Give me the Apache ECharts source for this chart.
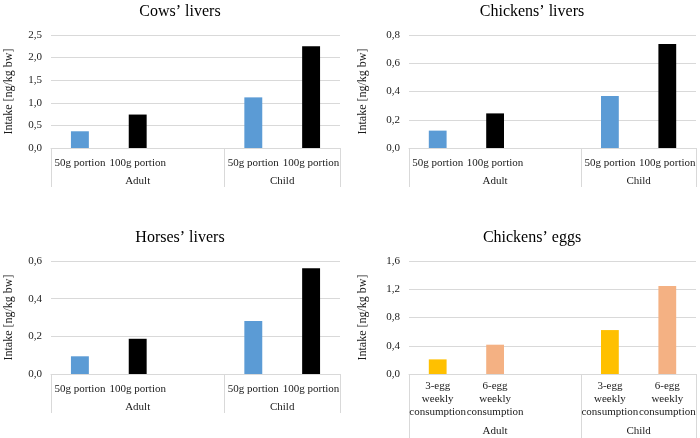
<!DOCTYPE html>
<html>
<head>
<meta charset="utf-8">
<script src="https://cdn.jsdelivr.net/npm/echarts@6/dist/echarts.min.js"></script>
<style>html,body{margin:0;padding:0;background:#fff}#c{width:700px;height:438px}</style>
</head>
<body>
<div id="c"></div>
<script>
// ---- data ----
const titles = ["Cows\u2019 livers", "Chickens\u2019 livers", "Horses\u2019 livers", "Chickens\u2019 eggs"];
const groups = ["Adult", "Child"];
const liverCats = ["50g portion", "100g portion", "", "50g portion", "100g portion"];
const eggCats = ["3-egg\nweekly\nconsumption", "6-egg\nweekly\nconsumption", "", "3-egg\nweekly\nconsumption", "6-egg\nweekly\nconsumption"];
const cowsLow = [0.37, null, null, 1.12, null];
const cowsHigh = [null, 0.74, null, null, 2.25];
const chickLow = [0.123, null, null, 0.368, null];
const chickHigh = [null, 0.245, null, null, 0.736];
const horseLow = [0.094, null, null, 0.281, null];
const horseHigh = [null, 0.187, null, null, 0.562];
const eggLow = [0.207, null, null, 0.622, null];
const eggHigh = [null, 0.415, null, null, 1.245];
const yMax = [2.5, 0.8, 0.6, 1.6];
const yStep = [0.5, 0.2, 0.2, 0.4];
const yName = "Intake [ng/kg bw]";

const FONT = "Liberation Serif";
const TXT = "#1a1a1a";
const panels = [
  {cats: liverCats, low: cowsLow, high: cowsHigh, c1: "#5b9bd5", c2: "#000000"},
  {cats: liverCats, low: chickLow, high: chickHigh, c1: "#5b9bd5", c2: "#000000"},
  {cats: liverCats, low: horseLow, high: horseHigh, c1: "#5b9bd5", c2: "#000000"},
  {cats: eggCats, low: eggLow, high: eggHigh, c1: "#ffc000", c2: "#f4b183"}
];
const grids = [
  {left: 51, width: 289, top: 35, height: 113},
  {left: 409, width: 287, top: 35, height: 113},
  {left: 51, width: 289, top: 261, height: 113},
  {left: 409, width: 287, top: 261, height: 113}
];
const titlePos = [{x: 175, y: -1}, {x: 527, y: -1}, {x: 175, y: 225}, {x: 527, y: 225}];
const nameGaps = [36, 40, 36, 40];

const option = {
  animation: false,
  title: [], grid: [], xAxis: [], yAxis: [], series: []
};
panels.forEach((p, i) => {
  const egg = i === 3;
  option.title.push({
    text: titles[i], left: titlePos[i].x, top: titlePos[i].y, textAlign: 'center',
    textStyle: {fontFamily: FONT, fontSize: 16, fontWeight: 'normal', color: '#000'}
  });
  option.grid.push(Object.assign({containLabel: false}, grids[i]));
  option.xAxis.push({
    type: 'category', gridIndex: i, data: p.cats,
    axisLine: {show: true, lineStyle: {color: '#d9d9d9'}},
    axisTick: {show: false},
    axisLabel: {interval: 0, hideOverlap: false, margin: egg ? 6 : 9, fontFamily: FONT, fontSize: 11, color: TXT, lineHeight: 13}
  });
  option.xAxis.push({
    type: 'value', gridIndex: i, position: 'bottom', min: 0, max: 5,
    axisLine: {show: false}, splitLine: {show: false},
    axisTick: {show: true, customValues: [0, 3, 5], length: egg ? 64 : 39, lineStyle: {color: '#d9d9d9'}},
    axisLabel: {customValues: [1.5, 4], margin: egg ? 52 : 28, fontFamily: FONT, fontSize: 11, color: TXT,
      formatter: v => v < 3 ? groups[0] : groups[1]}
  });
  option.yAxis.push({
    type: 'value', gridIndex: i, min: 0, max: yMax[i], interval: yStep[i],
    name: yName, nameLocation: 'middle', nameGap: nameGaps[i], nameRotate: 90,
    nameTextStyle: {fontFamily: FONT, fontSize: 12, color: TXT},
    axisLine: {show: false}, axisTick: {show: false},
    splitLine: {lineStyle: {color: '#d9d9d9'}},
    axisLabel: {margin: 9, fontFamily: FONT, fontSize: 11, color: TXT,
      formatter: v => v.toFixed(1).replace('.', ',')}
  });
  option.series.push({
    type: 'bar', xAxisIndex: 2 * i, yAxisIndex: i, data: p.low, barWidth: '31%', barGap: '-100%',
    itemStyle: {color: p.c1}
  });
  option.series.push({
    type: 'bar', xAxisIndex: 2 * i, yAxisIndex: i, data: p.high, barWidth: '31%', barGap: '-100%',
    itemStyle: {color: p.c2}
  });
});
const chart = echarts.init(document.getElementById('c'), null, {renderer: 'canvas'});
chart.setOption(option);
</script>
</body>
</html>
